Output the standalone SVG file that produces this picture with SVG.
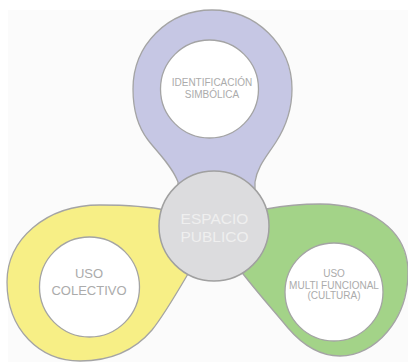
<svg xmlns="http://www.w3.org/2000/svg" width="408" height="362" viewBox="0 0 408 362">
<style>
.petal{stroke:#a4a4a4;stroke-width:1.3}
.hole{fill:#ffffff;stroke:#a4a4a4;stroke-width:1.3}
.lbl{font-family:"Liberation Sans",Arial,sans-serif;fill:#ababab;text-anchor:middle}
.core{fill:#dcdcde;stroke:#a0a0a0;stroke-width:1.5}
.corelbl{font-family:"Liberation Sans",Arial,sans-serif;fill:#efefef;text-anchor:middle;font-size:15.5px}
</style>
<rect x="8" y="10" width="400" height="352" fill="#fbfbfb"/>
<g id="connectors"></g>
<g id="identificacion">
<path class="petal" fill="#c6c7e4" d="M178 205 L178 182 C172 166 158 153 148 140 C138 127 133 110 133 89 C133 45 168 10 212 10 C256 10 292 45 292 89 C292 110 285 128 276 142 C267 156 257 167 255 182 L255 205 Z"/>
<circle class="hole" cx="209.5" cy="89" r="49"/>
<text class="lbl" font-size="10" x="212" y="86">IDENTIFICACIÓN</text>
<text class="lbl" font-size="10" x="212" y="98">SIMBÓLICA</text>
</g>
<g id="uso-colectivo">
<path class="petal" fill="#f7ef86" d="M205 225 C185 213 160 205 100 205 C45 205 7 240 7 282 C7 330 40 361 80 361 C110 361 135 350 152 330 C165 314 175 296 195 262 Z"/>
<circle class="hole" cx="89.5" cy="287" r="50"/>
<text class="lbl" font-size="13" x="89" y="278">USO</text>
<text class="lbl" font-size="13" x="89" y="295">COLECTIVO</text>
</g>
<g id="uso-multifuncional">
<path class="petal" fill="#a3d388" d="M220 220 C250 212 280 204 320 204 C370 204 408 230 408 272 C408 320 375 356 340 356 C318 356 300 342 288 328 C270 306 250 285 225 250 Z"/>
<circle class="hole" cx="334" cy="292" r="49"/>
<text class="lbl" font-size="10" x="334" y="277">USO</text>
<text class="lbl" font-size="10" x="334" y="289">MULTI FUNCIONAL</text>
<text class="lbl" font-size="10" x="334" y="299">(CULTURA)</text>
</g>
<g id="espacio-publico">
<circle class="core" cx="214" cy="226" r="55"/>
<text class="corelbl" x="214.5" y="224">ESPACIO</text>
<text class="corelbl" x="214.5" y="242">PUBLICO</text>
</g>
</svg>
